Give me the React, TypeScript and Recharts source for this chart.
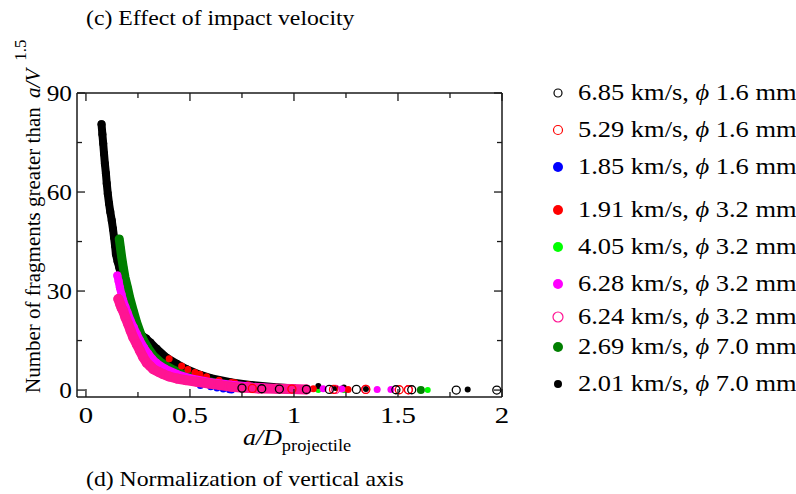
import React from "react";
import { ScatterChart, Scatter, XAxis, YAxis } from "recharts";

const FONT = "'Liberation Serif', 'Times New Roman', serif";
const AXIS = "#1a1a1a";

// axis ticks
const xTicks = [0, 0.25, 0.5, 0.75, 1, 1.25, 1.5, 1.75, 2];
const xMajor = [0, 0.5, 1, 1.5, 2];
const yTicks = [0, 15, 30, 45, 60, 75, 90];
const yMajor = [0, 30, 60, 90];

// legend text
const speeds = ["6.85", "5.29", "1.85", "1.91", "4.05", "6.28", "6.24", "2.69", "2.01"];
const diameters = ["1.6", "1.6", "1.6", "3.2", "3.2", "3.2", "3.2", "7.0", "7.0"];

// [a/D, N / (a/V)^1.5]
// 6.85 km/s, 1.6 mm (open black)
const v685 = [[0.75, 0.6], [0.845, 0.4], [0.93, 0.3], [1.06, 0.2], [1.17, 0.2], [1.3, 0.2], [1.49, 0.1], [1.566, 0.1], [1.78, 0.0], [1.975, 0.0]];
// 5.29 km/s, 1.6 mm (open red)
const v529 = [[0.8, 0.5], [0.99, 0.3], [1.19, 0.2], [1.345, 0.2], [1.506, 0.1], [1.55, 0.1]];
// 1.85 km/s, 1.6 mm (blue)
const v185 = [[0.55, 1.4], [0.6, 1.0], [0.63, 0.6], [0.66, 0.3], [0.69, 0.1], [0.7, 0.0]];
// 1.91 km/s, 3.2 mm (red)
const v191 = [[0.4, 9.5], [0.46, 7.3], [0.49, 6.2], [0.524, 5.3], [0.548, 4.8], [0.58, 4.0], [0.64, 3.0], [0.7, 2.4], [0.716, 2.2], [0.78, 1.6], [0.85, 1.1], [0.93, 0.7], [1.093, 0.4], [1.26, 0.2]];
// 4.05 km/s, 3.2 mm (lime)
const v405 = [[0.276, 16.5], [0.3, 13.2], [0.35, 9.2], [0.42, 6.4], [0.5, 4.2], [0.6, 2.6], [0.707, 0.3], [0.9, 0.5], [1.117, 0.0], [1.24, 0.0], [1.643, 0.0]];
// 6.28 km/s, 3.2 mm (magenta)
const v628 = [[0.151, 34.7], [0.157, 33.0], [0.163, 31.1], [0.171, 29.0], [0.179, 27.1], [0.19, 25.2], [0.2, 23.5], [0.215, 21.0], [0.23, 19.0], [0.245, 17.0], [0.26, 15.0], [0.28, 12.8], [0.3, 11.0], [0.32, 9.4], [0.34, 8.2], [0.38, 6.5], [0.44, 4.8], [0.5, 3.6], [0.6, 2.4], [0.7, 1.6], [0.8, 1.0], [0.9, 0.6], [1.0, 0.4]];
const v628Tail = [[1.14, 0.4], [1.23, 0.3], [1.4, 0.2], [1.466, 0.2]];
// 6.24 km/s, 3.2 mm (open pink)
const v624 = [[0.156, 27.6], [0.165, 26.0], [0.172, 24.8], [0.179, 24.0], [0.19, 22.0], [0.203, 20.0], [0.215, 18.0], [0.228, 15.9], [0.245, 13.8], [0.26, 11.9], [0.275, 10.0], [0.292, 8.3], [0.31, 7.2], [0.324, 6.3], [0.35, 5.5], [0.372, 4.8], [0.4, 4.1], [0.436, 3.5], [0.48, 3.0], [0.532, 2.5], [0.59, 2.0], [0.644, 1.5], [0.7, 1.0], [0.756, 0.7], [0.83, 0.5], [0.917, 0.4], [0.99, 0.3], [1.06, 0.2]];
const v624Tail = [[1.2, 0.2], [1.345, 0.2], [1.55, 0.1]];
// 2.69 km/s, 7.0 mm (dark green)
const v269 = [[0.16, 45.8], [0.166, 43.0], [0.172, 40.2], [0.18, 37.0], [0.188, 34.1], [0.2, 31.0], [0.21, 28.1], [0.228, 24.0], [0.244, 20.5], [0.26, 17.6], [0.276, 15.2], [0.3, 12.6], [0.324, 10.4], [0.355, 8.6], [0.388, 7.2], [0.42, 6.1], [0.452, 5.2], [0.49, 4.3], [0.532, 3.4], [0.58, 2.7], [0.628, 2.1], [0.69, 1.6], [0.756, 1.1], [0.82, 0.8], [0.885, 0.5], [0.95, 0.3], [1.01, 0.2]];
const v269Tail = [[1.61, 0.0]];
// 2.01 km/s, 7.0 mm (black)
const v201 = [[0.075, 80.5], [0.079, 77.5], [0.083, 74.7], [0.087, 71.6], [0.091, 68.6], [0.096, 65.6], [0.1, 62.6], [0.105, 59.5], [0.111, 56.5], [0.117, 54.0], [0.124, 51.4], [0.13, 48.8], [0.135, 46.3], [0.14, 43.7], [0.144, 41.2], [0.152, 39.0], [0.16, 37.2], [0.17, 34.5], [0.179, 32.1], [0.188, 29.5], [0.196, 27.1], [0.205, 24.5], [0.215, 22.0], [0.235, 19.3], [0.26, 16.9], [0.29, 15.6], [0.31, 14.4], [0.34, 12.5], [0.388, 9.8], [0.436, 8.0], [0.484, 6.3], [0.55, 4.6], [0.6, 3.6], [0.7, 2.3], [0.8, 1.5], [0.9, 0.9], [1.0, 0.5]];
const v201Tail = [[1.117, 1.2], [1.2, 0.6], [1.24, 0.8], [1.346, 0.3], [1.835, 0.2]];

const pts = (a: number[][]) => a.map(([x, y]) => ({ x, y }));

const dot = (color: string, r: number, open = false) => (p: any) =>
  open ? (
    <circle cx={p.cx} cy={p.cy} r={r} fill="none" stroke={color} strokeWidth={1.3} />
  ) : (
    <circle cx={p.cx} cy={p.cy} r={r} fill={color} />
  );

const band = (color: string, w: number) => ({
  stroke: color,
  strokeWidth: w,
  strokeLinecap: "round",
  strokeLinejoin: "round",
});

function BottomTick({ x, y, payload }: any) {
  const major = xMajor.includes(payload.value);
  return (
    <g>
      <line x1={x} y1={y} x2={x} y2={y - (major ? 8 : 5)} stroke={AXIS} strokeWidth={1.3} />
      {major && (
        <text transform={`translate(${x},${y + 26}) scale(1.2,1)`} textAnchor="middle" fontSize={24} fontFamily={FONT} fill="#000">
          {payload.value}
        </text>
      )}
    </g>
  );
}

function TopTick({ x, y, payload }: any) {
  const major = xMajor.includes(payload.value);
  return <line x1={x} y1={y} x2={x} y2={y + (major ? 8 : 5)} stroke={AXIS} strokeWidth={1.3} />;
}

function LeftTick({ x, y, payload }: any) {
  const major = yMajor.includes(payload.value);
  return (
    <g>
      <line x1={x} y1={y} x2={x + (major ? 8 : 5)} y2={y} stroke={AXIS} strokeWidth={1.3} />
      {major && (
        <text transform={`translate(${x - 5},${y + 8}) scale(1.1,1)`} textAnchor="end" fontSize={23} fontFamily={FONT} fill="#000">
          {payload.value}
        </text>
      )}
    </g>
  );
}

function RightTick({ x, y, payload }: any) {
  const major = yMajor.includes(payload.value);
  return <line x1={x} y1={y} x2={x - (major ? 8 : 5)} y2={y} stroke={AXIS} strokeWidth={1.3} />;
}

function Txt({ x, y, size, sx = 1, anchor = "start", children }: any) {
  return (
    <text transform={`translate(${x},${y}) scale(${sx},1)`} fontSize={size} fontFamily={FONT} textAnchor={anchor} fill="#000">
      {children}
    </text>
  );
}

const legendStyle = [
  { color: "#000000", r: 4, open: true },
  { color: "#ff0000", r: 4.5, open: true },
  { color: "#0000ff", r: 5, open: false },
  { color: "#ff0000", r: 5, open: false },
  { color: "#00ff00", r: 5, open: false },
  { color: "#ff00ff", r: 5, open: false },
  { color: "#ff1493", r: 5, open: true },
  { color: "#007f00", r: 5, open: false },
  { color: "#000000", r: 4, open: false },
];
const legendY = [93, 130, 167, 210, 247, 284, 317, 347, 384];

export default function App() {
  const axisLine = { stroke: AXIS, strokeWidth: 1.5 };
  const common = { type: "number" as const, allowDataOverflow: true, interval: 0, tickSize: 0, tickMargin: 0, tickLine: false, axisLine };
  return (
    <div style={{ position: "absolute", left: 0, top: 0, width: 796, height: 494, background: "#fff" }}>
      <ScatterChart width={796} height={494} margin={{ top: 92, right: 293, bottom: 96, left: 76 }}>
        <XAxis {...common} dataKey="x" domain={[-0.043, 2]} ticks={xTicks} height={1} tick={<BottomTick />} />
        <XAxis {...common} xAxisId="top" orientation="top" dataKey="x" domain={[-0.043, 2]} ticks={xTicks} height={1} tick={<TopTick />} />
        <YAxis {...common} dataKey="y" domain={[-2.1, 90]} ticks={yTicks} width={1} tick={<LeftTick />} />
        <YAxis {...common} yAxisId="right" orientation="right" dataKey="y" domain={[-2.1, 90]} ticks={yTicks} width={1} tick={<RightTick />} />

        <Scatter data={pts(v405)} shape={dot("#00ff00", 3)} isAnimationActive={false} />
        <Scatter data={pts(v201)} line={band("#000000", 8)} lineType="joint" shape={dot("#000000", 4)} isAnimationActive={false} />
        <Scatter data={pts(v201Tail)} shape={dot("#000000", 3)} isAnimationActive={false} />
        <Scatter data={pts(v269)} line={band("#007f00", 9)} lineType="joint" shape={dot("#007f00", 4)} isAnimationActive={false} />
        <Scatter data={pts(v269Tail)} shape={dot("#007f00", 4)} isAnimationActive={false} />
        <Scatter data={pts(v269Tail)} xAxisId="top" yAxisId="right" shape={() => <g />} isAnimationActive={false} />
        <Scatter data={pts(v191)} shape={dot("#ff0000", 3.5)} isAnimationActive={false} />
        <Scatter data={pts(v185)} shape={dot("#0000ff", 3.5)} isAnimationActive={false} />
        <Scatter data={pts(v628)} line={band("#ff00ff", 8)} lineType="joint" shape={dot("#ff00ff", 4)} isAnimationActive={false} />
        <Scatter data={pts(v628Tail)} shape={dot("#ff00ff", 3.5)} isAnimationActive={false} />
        <Scatter data={pts(v624)} line={band("#ff1493", 10)} lineType="joint" shape={dot("#ff1493", 5)} isAnimationActive={false} />
        <Scatter data={pts(v624Tail)} shape={dot("#ff1493", 4, true)} isAnimationActive={false} />
        <Scatter data={pts(v529)} shape={dot("#ff0000", 4, true)} isAnimationActive={false} />
        <Scatter data={pts(v685)} shape={dot("#000000", 4, true)} isAnimationActive={false} />
      </ScatterChart>

      <svg width={796} height={494} style={{ position: "absolute", left: 0, top: 0, pointerEvents: "none" }}>
        <Txt x={86} y={25} size={22} sx={1.08}>(c) Effect of impact velocity</Txt>
        <Txt x={86} y={486} size={22} sx={1.08}>(d) Normalization of vertical axis</Txt>

        <text transform="translate(243,445) scale(1.08,1)" fontFamily={FONT} fill="#000">
          <tspan fontSize={24} fontStyle="italic">a/D</tspan>
          <tspan fontSize={17} dy={6}>projectile</tspan>
        </text>

        <text transform="translate(40,393) rotate(-90)" fontFamily={FONT} fontSize={21} fill="#000">
          <tspan>Number of fragments greater than  </tspan>
          <tspan fontStyle="italic" dx={4}>a/V</tspan>
          <tspan fontSize={17} dx={8} dy={-14}>1.5</tspan>
        </text>

        {legendStyle.map((s, i) => (
          <g key={i}>
            {s.open ? (
              <circle cx={558} cy={legendY[i]} r={s.r} fill="none" stroke={s.color} strokeWidth={1.2} />
            ) : (
              <circle cx={558} cy={legendY[i]} r={s.r} fill={s.color} />
            )}
            <text transform={`translate(578,${legendY[i] + 7}) scale(1.15,1)`} fontFamily={FONT} fontSize={23} fill="#000">
              {speeds[i]} km/s, <tspan fontStyle="italic">ϕ</tspan> {diameters[i]} mm
            </text>
          </g>
        ))}
      </svg>
    </div>
  );
}
